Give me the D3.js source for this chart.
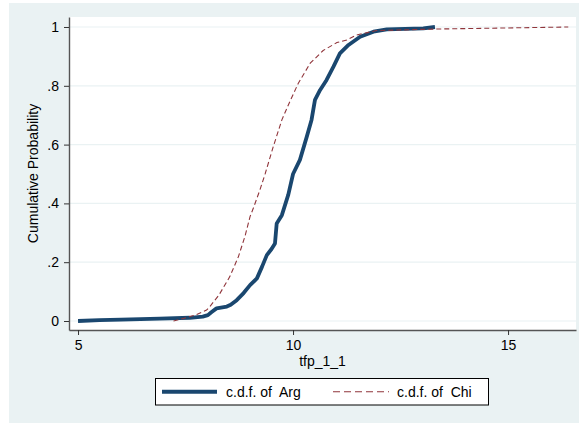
<!DOCTYPE html>
<html>
<head>
<meta charset="utf-8">
<script src="https://cdn.jsdelivr.net/npm/d3@7"></script>
<style>
  body { margin: 0; background: #fff; }
  text { font-family: "Liberation Sans", Arial, sans-serif; }
</style>
</head>
<body>
<div id="chart"></div>
<script>
// Hard-coded Consts
const CANVAS_WIDTH = 579;
const CANVAS_HEIGHT = 423;

const argX = [5.0, 5.5, 6.0, 6.9, 7.6, 7.9, 8.02, 8.1, 8.22, 8.46, 8.55, 8.69, 8.85, 9.0, 9.16, 9.28,
    9.39, 9.5, 9.58, 9.62, 9.74, 9.89, 10.0, 10.16, 10.32, 10.43, 10.51, 10.63, 10.78, 10.94, 11.09,
    11.29, 11.56, 11.87, 12.18, 13.03, 13.3];
const argY = [0.0, 0.003, 0.005, 0.008, 0.011, 0.015, 0.02, 0.03, 0.043, 0.049, 0.055, 0.071, 0.095, 0.122,
    0.145, 0.185, 0.224, 0.245, 0.264, 0.332, 0.36, 0.43, 0.5, 0.548, 0.627, 0.684, 0.752, 0.786, 0.82,
    0.865, 0.91, 0.939, 0.967, 0.984, 0.992, 0.995, 1.0];

// empirical cdf of Chi
const chiX = [7.22, 7.53, 7.76, 7.99, 8.07, 8.26, 8.3, 8.53, 8.73, 8.88, 9.0, 9.08, 9.23, 9.35, 9.54, 9.74,
    9.93, 10.12, 10.4, 10.7, 11.02, 11.25, 11.48, 11.94, 13.3, 14.2, 16.4];
const chiY = [0.0, 0.012, 0.022, 0.037, 0.05, 0.085, 0.094, 0.151, 0.219, 0.287, 0.355, 0.385, 0.446, 0.5,
    0.593, 0.684, 0.748, 0.808, 0.877, 0.92, 0.947, 0.956, 0.973, 0.988, 0.993, 0.995, 1.0];

const seriesNames = ["c.d.f. of\u00a0 Arg", "c.d.f. of\u00a0 Chi"];
const xTicks = [5, 10, 15];
const yTicks = [0, 0.2, 0.4, 0.6, 0.8, 1];
const yTickLabels = ["0", ".2", ".4", ".6", ".8", "1"];
const xTitle = "tfp_1_1";
const yTitle = "Cumulative Probability";

const NAVY = "#1a476f";
const MAROON = "#90353b";
const LTBLUE = "#eaf2f3";

const plot = { left: 69, right: 576, top: 17, bottom: 330 };

const svg = d3.select("#chart")
    .append("svg")
    .attr("width", CANVAS_WIDTH)
    .attr("height", CANVAS_HEIGHT);

// graph region
svg.append("rect")
    .attr("x", 9).attr("y", 3)
    .attr("width", CANVAS_WIDTH - 9).attr("height", CANVAS_HEIGHT - 3)
    .attr("fill", LTBLUE);

// plot region
svg.append("rect")
    .attr("x", plot.left).attr("y", plot.top)
    .attr("width", plot.right - plot.left).attr("height", plot.bottom - plot.top)
    .attr("fill", "#fff");

const x = d3.scaleLinear().domain([4.79, 16.58]).range([plot.left, plot.right]);
const y = d3.scaleLinear().domain([-0.0306, 1.034]).range([plot.bottom, plot.top]);

// gridlines
svg.append("g")
    .selectAll("line")
    .data(yTicks)
    .join("line")
    .attr("x1", plot.left).attr("x2", plot.right)
    .attr("y1", d => y(d)).attr("y2", d => y(d))
    .attr("stroke", LTBLUE)
    .attr("stroke-width", 1.2);

const line = d3.line()
    .x(d => x(d[0]))
    .y(d => y(d[1]));

let argData = argX.map((v, i) => [v, argY[i]]);
let chiData = chiX.map((v, i) => [v, chiY[i]]);

svg.append("path")
    .datum(argData)
    .attr("d", line)
    .attr("fill", "none")
    .attr("stroke", NAVY)
    .attr("stroke-width", 3.8)
    .attr("stroke-linejoin", "round");

svg.append("path")
    .datum(chiData)
    .attr("d", line)
    .attr("fill", "none")
    .attr("stroke", MAROON)
    .attr("stroke-width", 1.1)
    .attr("stroke-dasharray", "5,3");

// axes
const yAxis = d3.axisLeft(y)
    .tickValues(yTicks)
    .tickFormat((d, i) => yTickLabels[i])
    .tickSize(5)
    .tickSizeOuter(0)
    .tickPadding(5);

const xAxis = d3.axisBottom(x)
    .tickValues(xTicks)
    .tickSize(5)
    .tickSizeOuter(0)
    .tickPadding(5);

let gy = svg.append("g")
    .attr("transform", `translate(${plot.left},0)`)
    .call(yAxis);

let gx = svg.append("g")
    .attr("transform", `translate(0,${plot.bottom})`)
    .call(xAxis);

[gx, gy].forEach(g => {
    g.select(".domain").attr("stroke", "#555").attr("stroke-width", 1.4);
    g.selectAll(".tick line").attr("stroke", "#333");
    g.selectAll(".tick text")
        .attr("fill", "#000")
        .attr("font-size", 14)
        .attr("font-family", "Liberation Sans, Arial, sans-serif");
});

// axis titles
svg.append("text")
    .attr("x", (plot.left + plot.right) / 2)
    .attr("y", 366)
    .attr("text-anchor", "middle")
    .attr("font-size", 14)
    .text(xTitle);

svg.append("text")
    .attr("transform", `translate(37.5,${(plot.top + plot.bottom) / 2}) rotate(-90)`)
    .attr("text-anchor", "middle")
    .attr("font-size", 14)
    .text(yTitle);

// legend
const legend = svg.append("g");

legend.append("rect")
    .attr("x", 155.5).attr("y", 378.5)
    .attr("width", 333).attr("height", 26.5)
    .attr("fill", "#fff")
    .attr("stroke", "#000")
    .attr("stroke-width", 1);

const legendItems = [
    { name: seriesNames[0], color: NAVY, width: 4, dash: null, x0: 162, x1: 217, tx: 226 },
    { name: seriesNames[1], color: MAROON, width: 1.1, dash: "7,4", x0: 333, x1: 389, tx: 397 }
];

legend.selectAll("line")
    .data(legendItems)
    .join("line")
    .attr("x1", d => d.x0).attr("x2", d => d.x1)
    .attr("y1", 391.7).attr("y2", 391.7)
    .attr("stroke", d => d.color)
    .attr("stroke-width", d => d.width)
    .attr("stroke-dasharray", d => d.dash);

legend.selectAll("text")
    .data(legendItems)
    .join("text")
    .attr("x", d => d.tx)
    .attr("y", 397.3)
    .attr("font-size", 14)
    .text(d => d.name);
</script>
</body>
</html>
